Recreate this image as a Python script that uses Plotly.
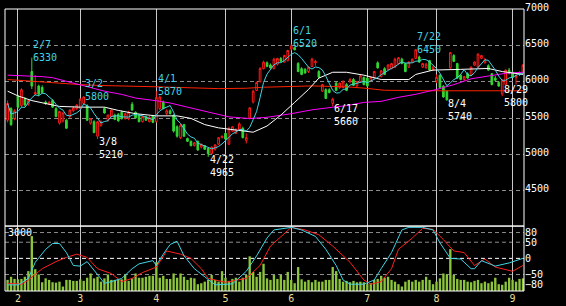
import plotly.graph_objects as go
import pandas as pd

# ---------------- data ----------------
open_ = [5470, 5630, 5490, 5800, 5670, 5760, 5690, 6140, 5830, 5940,
         5920, 5720, 5690, 5740, 5630, 5430, 5460, 5470, 5520, 5600,
         5630, 5630, 5700, 5670, 5430, 5450, 5250, 5400, 5630, 5470,
         5520, 5540, 5550, 5580, 5490, 5490, 5690, 5580, 5540, 5450,
         5520, 5450, 5530, 5450, 5630, 5720, 5560, 5600, 5540, 5380,
         5230, 5410, 5220, 5180, 5120, 5180, 5100, 5120, 5080, 5010,
         5070, 5140, 5230, 5290, 5140, 5320, 5290, 5330, 5360, 5190,
         5500, 5720, 5880, 6000, 6180, 6260, 6230, 6180, 6240, 6320,
         6270, 6290, 6450, 6470, 6250, 6180, 6170, 6140, 6210, 6260,
         6140, 5870, 5890, 5890, 5700, 5980, 5920, 5920, 5960, 6000,
         6030, 5940, 6000, 6060, 6050, 6010, 6050, 6260, 6070, 6180,
         6170, 6180, 6200, 6250, 6310, 6250, 6200, 6270, 6320, 6340,
         6200, 6190, 6290, 6160, 6010, 6090, 5940, 5870, 6190, 6360,
         6250, 6090, 6030, 6110, 6090, 6230, 6200, 6320, 6260, 6220,
         6110, 6050, 5990, 5830, 5960, 6160, 6130, 6060, 6120, 6120]
high = [5740, 5650, 5620, 5820, 5910, 5790, 5760, 6330, 6090, 5960,
        5950, 5740, 5730, 5760, 5650, 5600, 5580, 5490, 5620, 5660,
        5690, 5770, 5800, 5690, 5500, 5470, 5460, 5470, 5650, 5550,
        5620, 5560, 5570, 5600, 5570, 5600, 5720, 5590, 5550, 5530,
        5530, 5530, 5540, 5870, 5810, 5740, 5620, 5620, 5550, 5400,
        5420, 5420, 5230, 5190, 5170, 5190, 5150, 5130, 5090, 5110,
        5140, 5240, 5260, 5310, 5380, 5390, 5360, 5440, 5380, 5290,
        5650, 5890, 6000, 6200, 6290, 6280, 6250, 6330, 6330, 6340,
        6370, 6440, 6520, 6480, 6270, 6200, 6190, 6210, 6330, 6300,
        6160, 5970, 5910, 5910, 5780, 6000, 5990, 6020, 5980, 6050,
        6050, 6010, 6090, 6070, 6060, 6070, 6150, 6280, 6160, 6200,
        6240, 6260, 6330, 6340, 6330, 6260, 6280, 6320, 6450, 6360,
        6260, 6260, 6300, 6220, 6100, 6100, 5950, 5880, 6410, 6380,
        6260, 6100, 6080, 6130, 6210, 6280, 6390, 6370, 6330, 6240,
        6120, 6080, 6010, 6030, 6170, 6190, 6140, 6130, 6140, 6240]
low = [5440, 5390, 5470, 5630, 5650, 5660, 5670, 5900, 5810, 5800,
       5840, 5680, 5680, 5640, 5510, 5410, 5440, 5350, 5500, 5580,
       5610, 5620, 5690, 5460, 5410, 5290, 5210, 5380, 5560, 5450,
       5510, 5470, 5450, 5480, 5480, 5470, 5600, 5490, 5440, 5440,
       5460, 5440, 5430, 5440, 5610, 5620, 5540, 5550, 5300, 5230,
       5210, 5240, 5170, 5110, 5110, 5050, 5080, 5060, 4965, 5000,
       5050, 5130, 5220, 5200, 5130, 5310, 5280, 5320, 5220, 5150,
       5480, 5700, 5870, 5990, 6170, 6200, 6180, 6170, 6220, 6270,
       6260, 6280, 6430, 6430, 6130, 6090, 6110, 6120, 6200, 6220,
       6050, 5860, 5760, 5840, 5660, 5870, 5900, 5910, 5870, 5980,
       5940, 5930, 5990, 5950, 5930, 6000, 6040, 6180, 6060, 6090,
       6160, 6170, 6190, 6240, 6240, 6130, 6190, 6260, 6310, 6260,
       6190, 6180, 6150, 6150, 5980, 5910, 5780, 5740, 6180, 6270,
       6040, 6020, 6010, 6040, 6080, 6220, 6190, 6310, 6250, 6150,
       5950, 6010, 5930, 5800, 5950, 6100, 6050, 5960, 6080, 6110]
close = [5700, 5410, 5600, 5650, 5890, 5680, 5740, 5940, 5850, 5830,
         5850, 5700, 5720, 5650, 5520, 5590, 5570, 5360, 5610, 5640,
         5680, 5760, 5790, 5470, 5490, 5300, 5450, 5450, 5570, 5540,
         5610, 5480, 5460, 5490, 5560, 5580, 5610, 5500, 5450, 5520,
         5470, 5510, 5440, 5780, 5790, 5630, 5600, 5560, 5320, 5250,
         5400, 5250, 5180, 5120, 5160, 5060, 5140, 5070, 5010, 5100,
         5130, 5230, 5250, 5210, 5350, 5380, 5340, 5420, 5230, 5230,
         5640, 5870, 5990, 6180, 6270, 6210, 6190, 6310, 6320, 6280,
         6360, 6430, 6490, 6440, 6140, 6100, 6120, 6200, 6310, 6280,
         6060, 5960, 5770, 5850, 5760, 5880, 5980, 6000, 5880, 6030,
         5950, 6000, 6080, 5960, 5940, 6060, 6140, 6190, 6150, 6100,
         6230, 6250, 6310, 6330, 6250, 6140, 6270, 6310, 6440, 6270,
         6250, 6240, 6160, 6200, 6060, 5920, 5790, 5750, 6400, 6280,
         6050, 6030, 6070, 6050, 6200, 6270, 6380, 6360, 6300, 6160,
         5960, 6020, 5940, 6020, 6160, 6120, 6060, 6080, 6100, 6230]
volume = [570, 730, 620, 600, 620, 730, 1020, 2820, 1120, 850,
          450, 650, 570, 450, 430, 480, 230, 570, 570, 520,
          520, 600, 520, 680, 900, 650, 730, 480, 650, 850,
          570, 570, 570, 600, 850, 520, 650, 900, 680, 680,
          730, 780, 780, 1480, 680, 780, 620, 620, 900, 680,
          900, 730, 570, 680, 650, 350, 400, 480, 570, 820,
          570, 480, 1020, 680, 520, 620, 680, 480, 680, 820,
          1780, 980, 730, 980, 1400, 650, 570, 820, 620, 820,
          570, 980, 570, 400, 1230, 600, 480, 570, 450, 570,
          480, 480, 570, 570, 1230, 1020, 620, 480, 520, 450,
          520, 450, 480, 450, 350, 400, 570, 620, 780, 680,
          730, 570, 480, 350, 230, 480, 570, 480, 570, 480,
          570, 730, 570, 350, 480, 650, 900, 850, 2150, 820,
          620, 570, 570, 480, 450, 520, 570, 400, 480, 400,
          480, 680, 350, 320, 480, 680, 570, 480, 620, 650]

# month boundaries (bar index of first trading day) and labels
month_start = [3, 21, 43, 63, 82, 104, 124, 146]
month_labels = ["2", "3", "4", "5", "6", "7", "8", "9"]

# moving-average lines read at points (bar index, price)
white_x = [0, 3, 7, 11, 15, 21, 28, 32, 37, 43, 49, 53, 57, 61, 66, 71, 75, 79, 83, 87,
           90, 94, 98, 103, 108, 112, 116, 118, 123, 131, 139, 143, 149]
white_y = [5870, 5805, 5740, 5695, 5660, 5650, 5650, 5605, 5560, 5530, 5530, 5495, 5410, 5365,
           5330, 5305, 5390, 5540, 5716, 5893, 6050, 6130, 6130, 6090, 6030, 6025, 6030, 6100,
           6160, 6170, 6182, 6140, 6100]
magenta_x = [0, 5, 10, 13, 17, 21, 28, 33, 37, 43, 47, 52, 58, 64, 70, 75, 82, 88, 94, 98,
             103, 108, 113, 118, 124, 129, 134, 139, 144, 149]
magenta_y = [6090, 6085, 6070, 6055, 6005, 5960, 5870, 5825, 5775, 5738, 5707, 5650, 5582,
             5516, 5493, 5510, 5560, 5613, 5649, 5671, 5715, 5730, 5785, 5827, 5893, 5960,
             6040, 6080, 6116, 6130]
red_x = [0, 7, 13, 21, 27, 38, 43, 53, 61, 69, 74, 88, 98, 103, 109, 124, 136, 149]
red_y = [6030, 6005, 5980, 5960, 5948, 5940, 5930, 5916, 5905, 5910, 5924, 5942, 5930, 5912,
         5882, 5875, 5880, 5875]

# oscillator lines (bar index, value)
osc_cyan_x = [0, 3, 6, 8, 11, 13, 15, 17, 19, 21, 23, 26, 28, 30, 33, 36, 38, 42, 43, 45,
              47, 49, 51, 54, 58, 60, 65, 69, 72, 75, 77, 80, 82, 85, 89, 92, 95, 97, 99, 103,
              106, 108, 111, 114, 116, 120, 123, 125, 128, 131, 134, 135, 137, 141, 145, 149]
osc_cyan_y = [-82, -82, -62, -12, 28, 46, 46, 18, -22, -24, -10, -52, -77, -72, -62, -32, -17,
              -7, -22, 13, 43, 53, 8, -32, -67, -82, -79, -40, 8, 63, 88, 92, 96, 88, 68, 28,
              -22, -67, -80, -80, -67, -32, 18, 88, 96, 96, 88, 48, 0, -2, -32, -32, -7, -24,
              -14, 0]
osc_red_x = [0, 4, 6, 10, 14, 17, 20, 23, 26, 30, 33, 36, 39, 43, 46, 50, 53, 56, 58, 63,
             69, 73, 76, 80, 82, 86, 90, 94, 99, 103, 105, 108, 111, 113, 117, 120, 123, 126,
             129, 132, 135, 138, 141, 146, 149]
osc_red_y = [-77, -80, -67, -32, -10, 3, 13, 3, -32, -47, -72, -62, -44, -27, 23, 13, 0, -32,
             -62, -74, -62, -22, 38, 78, 96, 88, 73, 38, -12, -67, -80, -72, -32, 28, 63, 93,
             90, 58, 23, 18, -22, -2, -27, -40, -22]

# labelled highs and lows
high_label_idx = [7, 22, 43, 82, 118]
high_label_date = ["2/7", "3/2", "4/1", "6/1", "7/22"]
low_label_idx = [26, 58, 94, 127, 143]
low_label_date = ["3/8", "4/22", "6/17", "8/4", "8/29"]

price_ticks = [4500, 5000, 5500, 6000, 6500, 7000]
osc_ticks = [80, 50, 0, -50, -80]

# ---------------- figure ----------------
n = len(close)
bar_idx = list(range(n))
cyan_ma = pd.Series(close).rolling(5, min_periods=1).mean()

FONT = "DejaVu Sans Mono"
CYAN = "#40d4e4"
LOWER = 67 / 291.0
XR = [-0.75, 149.3]

fig = go.Figure()
fig.add_trace(go.Scatter(x=red_x, y=red_y, mode="lines", line=dict(color="#ff2200", width=1),
                         xaxis="x", yaxis="y", hoverinfo="skip"))
fig.add_trace(go.Scatter(x=magenta_x, y=magenta_y, mode="lines", line=dict(color="#ff00ff", width=1),
                         xaxis="x", yaxis="y", hoverinfo="skip"))
fig.add_trace(go.Scatter(x=white_x, y=white_y, mode="lines", line=dict(color="#ffffff", width=1),
                         xaxis="x", yaxis="y", hoverinfo="skip"))
fig.add_trace(go.Scatter(x=bar_idx, y=cyan_ma, mode="lines", line=dict(color=CYAN, width=1),
                         xaxis="x", yaxis="y", hoverinfo="skip"))
fig.add_trace(go.Candlestick(
    x=bar_idx, open=open_, high=high, low=low, close=close,
    increasing=dict(line=dict(color="#ff1a1a", width=1), fillcolor="#000000"),
    decreasing=dict(line=dict(color="#33d633", width=1), fillcolor="#33d633"),
    whiskerwidth=0, xaxis="x", yaxis="y"))

fig.add_trace(go.Bar(x=bar_idx, y=volume, width=0.68,
                     marker=dict(color="#8cc43c", line=dict(width=0)),
                     xaxis="x2", yaxis="y2", hoverinfo="skip"))
fig.add_trace(go.Scatter(x=osc_red_x, y=osc_red_y, mode="lines", line=dict(color="#ff2020", width=1),
                         xaxis="x2", yaxis="y3", hoverinfo="skip"))
fig.add_trace(go.Scatter(x=osc_cyan_x, y=osc_cyan_y, mode="lines", line=dict(color=CYAN, width=1),
                         xaxis="x2", yaxis="y3", hoverinfo="skip"))

tickfont = dict(family=FONT, size=10, color="#ffffff")
fig.update_layout(
    width=566, height=306, margin=dict(l=5, r=42, t=2, b=13),
    paper_bgcolor="#000000", plot_bgcolor="#000000", showlegend=False,
    xaxis=dict(domain=[0, 1], anchor="y", range=XR, tickvals=month_start, showticklabels=False,
               showgrid=True, gridcolor="#c8c8c8", gridwidth=1, zeroline=False, showline=False,
               ticks="", rangeslider=dict(visible=False)),
    xaxis2=dict(domain=[0, 1], anchor="y2", range=XR, matches="x", tickvals=month_start,
                ticktext=month_labels, showgrid=True, gridcolor="#c8c8c8", gridwidth=1,
                zeroline=False, showline=False, ticks="",
                tickfont=dict(family=FONT, size=10, color="#e8dc98")),
    yaxis=dict(domain=[LOWER, 1], anchor="x", side="right", range=[4013.3, 7000.6],
               tickvals=price_ticks, ticks="", showgrid=True, gridcolor="#8c8c8c",
               griddash="4px,3px", zeroline=False, showline=False, tickfont=tickfont,
               ticklabeloverflow="allow", ticklabelshift=-2),
    yaxis2=dict(domain=[0, LOWER], anchor="x2", range=[0, 3333], visible=False,
                showgrid=False, zeroline=False),
    yaxis3=dict(overlaying="y2", anchor="x2", side="right", range=[-101, 100],
                tickvals=osc_ticks, ticks="", showgrid=False, zeroline=False,
                showline=False, tickfont=tickfont, ticklabeloverflow="allow"),
)

shapes = []
for v in [80, 50, -50]:
    shapes.append(dict(type="line", xref="paper", x0=0, x1=1, yref="y3", y0=v, y1=v,
                       line=dict(color="#8c8c8c", width=1, dash="4px,3px"), layer="below"))
shapes.append(dict(type="line", xref="paper", x0=0, x1=1, yref="y3", y0=0, y1=0,
                   line=dict(color="#ffffff", width=1, dash="4px,3px"), layer="below"))
shapes.append(dict(type="rect", xref="paper", yref="paper", x0=0, x1=1, y0=LOWER, y1=1,
                   line=dict(color="#ffffff", width=1), layer="above"))
shapes.append(dict(type="rect", xref="paper", yref="paper", x0=0, x1=1, y0=0, y1=LOWER,
                   line=dict(color="#ffffff", width=1), layer="above"))
fig.update_layout(shapes=shapes)

ann = []
lab_font_c = dict(family=FONT, size=10, color=CYAN)
lab_font_w = dict(family=FONT, size=10, color="#ffffff")
for i, d in zip(high_label_idx, high_label_date):
    ann.append(dict(x=i, y=high[i], xref="x", yref="y", text=d + "<br>" + str(high[i]),
                    showarrow=False, align="left", xanchor="left", yanchor="middle",
                    xshift=-0.5, yshift=6.5, font=lab_font_c))
for i, d in zip(low_label_idx, low_label_date):
    dy = -9 if d != "8/29" else 0
    ann.append(dict(x=i, y=low[i], xref="x", yref="y", text=d + "<br>" + str(low[i]),
                    showarrow=False, align="left", xanchor="left", yanchor="middle",
                    xshift=-0.5, yshift=dy, font=lab_font_w))
ann.append(dict(x=0, y=3000, xref="paper", yref="y2", text="3000", showarrow=False,
                xanchor="left", yanchor="middle", xshift=1, font=lab_font_w))
fig.update_layout(annotations=ann)

fig.write_html("out.html")
